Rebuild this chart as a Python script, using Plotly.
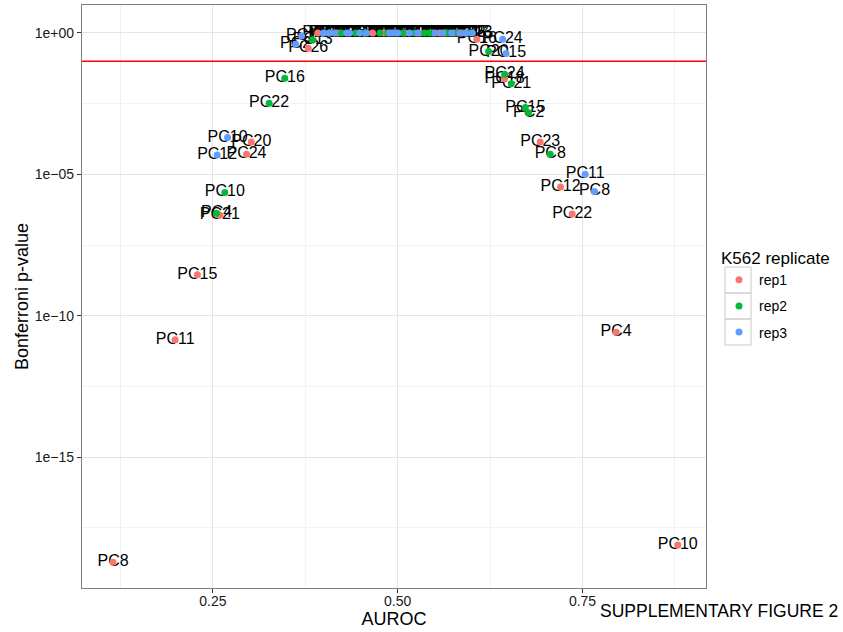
import plotly.graph_objects as go

# ---------------- data ----------------
rep1_pc = ["PC8", "PC11", "PC15", "PC21", "PC20", "PC24", "PC26", "PC18", "PC23", "PC12",
           "PC22", "PC4", "PC10", "PC1", "PC2", "PC3", "PC5", "PC6", "PC7", "PC9", "PC13",
           "PC14", "PC16", "PC17", "PC19", "PC25"]
rep1_auroc = [0.115, 0.199, 0.229, 0.2595, 0.302, 0.2955, 0.379, 0.6446, 0.6928, 0.7203,
              0.736, 0.7955, 0.8788, 0.392, 0.466, 0.481, 0.530, 0.547, 0.557, 0.566, 0.577,
              0.5865, 0.607, 0.419, 0.5095, 0.593]
rep1_p = [1.9e-19, 1.4e-11, 2.8e-9, 3.6e-7, 1.4e-4, 5.1e-5, 0.29, 0.024, 1.4e-4, 3.6e-6,
          4.0e-7, 2.6e-11, 7.8e-19, 1.0, 1.0, 1.0, 1.0, 1.0, 1.0, 1.0, 1.0,
          1.0, 0.60, 1.0, 1.0, 1.0]

rep2_pc = ["PC10", "PC4", "PC22", "PC16", "PC24", "PC21", "PC15", "PC2", "PC8", "PC20",
           "PC1", "PC3", "PC5", "PC6", "PC7", "PC9", "PC11", "PC12", "PC13", "PC14",
           "PC17", "PC18", "PC19", "PC23", "PC25", "PC26"]
rep2_auroc = [0.2662, 0.255, 0.3261, 0.3473, 0.6446, 0.6536, 0.6726, 0.677, 0.7063, 0.623,
              0.424, 0.443, 0.476, 0.497, 0.507, 0.523, 0.543, 0.5635, 0.385, 0.581,
              0.597, 0.408, 0.455, 0.5365, 0.570, 0.4865]
rep2_p = [2.3e-6, 4.2e-7, 3.3e-3, 0.025, 0.035, 0.016, 2.3e-3, 1.5e-3, 5.1e-5, 0.22,
          1.0, 1.0, 1.0, 1.0, 1.0, 1.0, 1.0, 1.0, 0.56, 1.0,
          1.0, 1.0, 1.0, 1.0, 1.0, 1.0]

rep3_pc = ["PC10", "PC12", "PC11", "PC8", "PC15", "PC1", "PC2", "PC3", "PC4", "PC5", "PC6",
           "PC7", "PC9", "PC13", "PC14", "PC16", "PC17", "PC18", "PC19", "PC20", "PC21",
           "PC22", "PC23", "PC24", "PC25", "PC26"]
rep3_auroc = [0.2699, 0.2558, 0.7536, 0.7662, 0.6466, 0.370, 0.362, 0.400, 0.407, 0.431, 0.435,
              0.4486, 0.458, 0.489, 0.493, 0.516, 0.527, 0.551, 0.561, 0.573, 0.584,
              0.592, 0.601, 0.642, 0.415, 0.500]
rep3_p = [2.0e-4, 4.8e-5, 1.0e-5, 2.5e-6, 0.19, 0.79, 0.40, 1.0, 1.0, 1.0, 1.0,
          1.0, 1.0, 1.0, 1.0, 1.0, 1.0, 1.0, 1.0, 1.0, 1.0,
          1.0, 1.0, 0.60, 1.0, 1.0]

replicates = ["rep1", "rep2", "rep3"]
colors = ["#F8766D", "#00BA38", "#619CFF"]
threshold = 0.1

y_tickvals = [1, 1e-5, 1e-10, 1e-15]
y_ticktext = ["1e+00", "1e\u221205", "1e\u221210", "1e\u221215"]
y_minor = [10 ** -2.5, 10 ** -7.5, 10 ** -12.5, 10 ** -17.5]
x_tickvals = [0.25, 0.50, 0.75]
x_ticktext = ["0.25", "0.50", "0.75"]
x_minor = [0.125, 0.375, 0.625, 0.875]

FONT = "Liberation Sans, Arial, Helvetica, sans-serif"

series = [(rep1_pc, rep1_auroc, rep1_p), (rep2_pc, rep2_auroc, rep2_p), (rep3_pc, rep3_auroc, rep3_p)]

fig = go.Figure()

# text labels first (points drawn on top)
for (pcs, xs, ps) in series:
    fig.add_trace(go.Scatter(x=xs, y=ps, mode="text", text=pcs, textposition="middle center",
                             textfont=dict(family=FONT, size=16, color="black"),
                             showlegend=False, hoverinfo="skip"))

for name, col, (pcs, xs, ps) in zip(replicates, colors, series):
    fig.add_trace(go.Scatter(x=xs, y=ps, mode="markers", name=name, text=pcs, legendgroup=name,
                             marker=dict(color=col, size=7, line=dict(width=0))))

fig.add_hline(y=threshold, line=dict(color="#FF0000", width=1.3), layer="above")

# legend key boxes (ggplot style)
PW, PH, ML, MB = 624, 583, 82, 44
def px_x(px):
    return (px - ML) / PW
def px_y(py):
    return (632 - MB - py) / PH
key_tops = [267, 293, 319]
for t in key_tops:
    fig.add_shape(type="rect", xref="paper", yref="paper",
                  x0=px_x(725), x1=px_x(751), y0=px_y(t), y1=px_y(t + 26),
                  line=dict(color="#CCCCCC", width=1), fillcolor="rgba(0,0,0,0)")

fig.update_layout(
    width=843, height=632,
    margin=dict(l=ML, r=843 - ML - PW, t=5, b=MB, autoexpand=False),
    paper_bgcolor="white", plot_bgcolor="white",
    font=dict(family=FONT, color="black"),
    showlegend=True,
    legend=dict(title=dict(text="K562 replicate", font=dict(size=17, color="black")),
                font=dict(size=14, color="black"),
                x=px_x(719), xanchor="left", y=px_y(242), yanchor="top",
                bgcolor="rgba(0,0,0,0)", itemsizing="trace", tracegroupgap=5),
    annotations=[dict(text="SUPPLEMENTARY FIGURE 2", xref="paper", yref="paper",
                      x=px_x(840), y=px_y(611), xanchor="right", yanchor="middle",
                      showarrow=False, font=dict(size=17.5, color="black"))],
)

fig.update_xaxes(
    range=[0.073, 0.917], tickmode="array", tickvals=x_tickvals, ticktext=x_ticktext,
    ticks="outside", ticklen=4, tickcolor="#333333", tickwidth=1,
    tickfont=dict(size=14, color="#1a1a1a"), ticklabelstandoff=-4,
    showgrid=True, gridcolor="#E5E5E5", gridwidth=1,
    minor=dict(tickmode="array", tickvals=x_minor, showgrid=True, gridcolor="#F2F2F2", gridwidth=1, ticks=""),
    showline=True, linecolor="#7F7F7F", linewidth=1.3, mirror=True, zeroline=False,
    automargin=False,
    title=dict(text="AUROC", font=dict(size=18, color="black"), standoff=0),
)
fig.update_yaxes(
    type="log", range=[-19.63, 0.99], tickmode="array", tickvals=y_tickvals, ticktext=y_ticktext,
    ticks="outside", ticklen=4, tickcolor="#333333", tickwidth=1,
    tickfont=dict(size=14, color="#1a1a1a"),
    showgrid=True, gridcolor="#E5E5E5", gridwidth=1,
    minor=dict(tickmode="array", tickvals=y_minor, showgrid=True, gridcolor="#F2F2F2", gridwidth=1, ticks=""),
    showline=True, linecolor="#7F7F7F", linewidth=1.3, mirror=True, zeroline=False,
    automargin=False,
    title=dict(text="Bonferroni p-value", font=dict(size=18, color="black"), standoff=1),
)

fig.write_html("out.html")
